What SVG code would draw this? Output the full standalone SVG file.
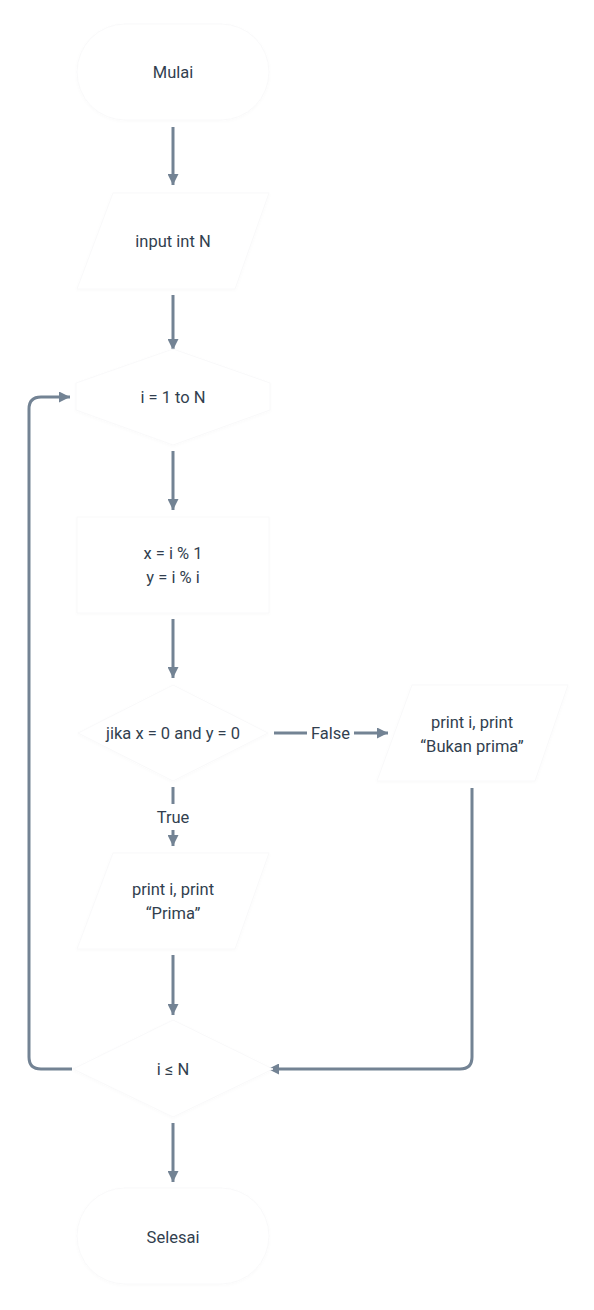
<svg xmlns="http://www.w3.org/2000/svg" width="594" height="1310" viewBox="0 0 594 1310">
<style>
.shape{fill:#ffffff;stroke:#f9f9fa;stroke-width:1;filter:url(#sh)}
.lbl{font-family:Roboto,"Noto Sans",sans-serif;font-size:16.5px;fill:#323f4f;text-anchor:middle;dominant-baseline:central}
.conn{fill:none;stroke:#738394;stroke-width:3;stroke-linejoin:round}
</style>
<defs>
<filter id="sh" x="-10%" y="-10%" width="120%" height="130%">
<feDropShadow dx="0" dy="1" stdDeviation="1.5" flood-color="#000" flood-opacity="0.02"/>
</filter>
<marker id="ah" viewBox="0 0 10 10" refX="10" refY="5" markerWidth="11" markerHeight="11" markerUnits="userSpaceOnUse" orient="auto">
<path d="M0,0 L10,5 L0,10 z" fill="#738394"/>
</marker>
</defs>
<rect width="594" height="1310" fill="#ffffff"/>
<g id="connectors">
<path class="conn" d="M173,127 V185" marker-end="url(#ah)"/>
<path class="conn" d="M173,295 V350" marker-end="url(#ah)"/>
<path class="conn" d="M173,451 V510" marker-end="url(#ah)"/>
<path class="conn" d="M173,619 V678" marker-end="url(#ah)"/>
<path class="conn" d="M173,787 V804"/>
<path class="conn" d="M173,830 V846" marker-end="url(#ah)"/>
<path class="conn" d="M173,955 V1015" marker-end="url(#ah)"/>
<path class="conn" d="M173,1123 V1182" marker-end="url(#ah)"/>
<path class="conn" d="M274,733 H307"/>
<path class="conn" d="M354,733 H388" marker-end="url(#ah)"/>
<path class="conn" d="M472,788 V1057 Q472,1069 460,1069 H268" marker-end="url(#ah)"/>
<path class="conn" d="M72,1069 H41 Q29,1069 29,1057 V409 Q29,397 41,397 H70" marker-end="url(#ah)"/>
<text class="lbl" x="330.5" y="733">False</text>
<text class="lbl" x="173" y="817">True</text>
</g>
<g id="mulai">
<rect class="shape" x="77" y="24" width="192" height="96" rx="48"/>
<text class="lbl" x="173" y="72">Mulai</text>
</g>
<g id="input">
<polygon class="shape" points="113,193 269,193 235,289 77,289"/>
<text class="lbl" x="173" y="241">input int N</text>
</g>
<g id="loop">
<polygon class="shape" points="173,349 270,383 270,410 173,445 76,410 76,383"/>
<text class="lbl" x="173" y="397">i = 1 to N</text>
</g>
<g id="assign">
<rect class="shape" x="77" y="517" width="192" height="96"/>
<text class="lbl" x="173" y="553">x = i % 1</text>
<text class="lbl" x="173" y="577">y = i % i</text>
</g>
<g id="cond">
<polygon class="shape" points="173,685 268,733 173,781 78,733"/>
<text class="lbl" x="173" y="733">jika x = 0 and y = 0</text>
</g>
<g id="bukan">
<polygon class="shape" points="412,685 568,685 535,781 377,781"/>
<text class="lbl" x="472" y="722">print i, print</text>
<text class="lbl" x="472" y="746">“Bukan prima”</text>
</g>
<g id="prima">
<polygon class="shape" points="113,853 269,853 235,949 77,949"/>
<text class="lbl" x="173" y="889">print i, print</text>
<text class="lbl" x="173" y="913">“Prima”</text>
</g>
<g id="check">
<polygon class="shape" points="173,1020 273,1069 173,1117 73,1069"/>
<text class="lbl" x="173" y="1069">i ≤ N</text>
</g>
<g id="selesai">
<rect class="shape" x="77" y="1188" width="192" height="96" rx="48"/>
<text class="lbl" x="173" y="1237">Selesai</text>
</g>
</svg>
